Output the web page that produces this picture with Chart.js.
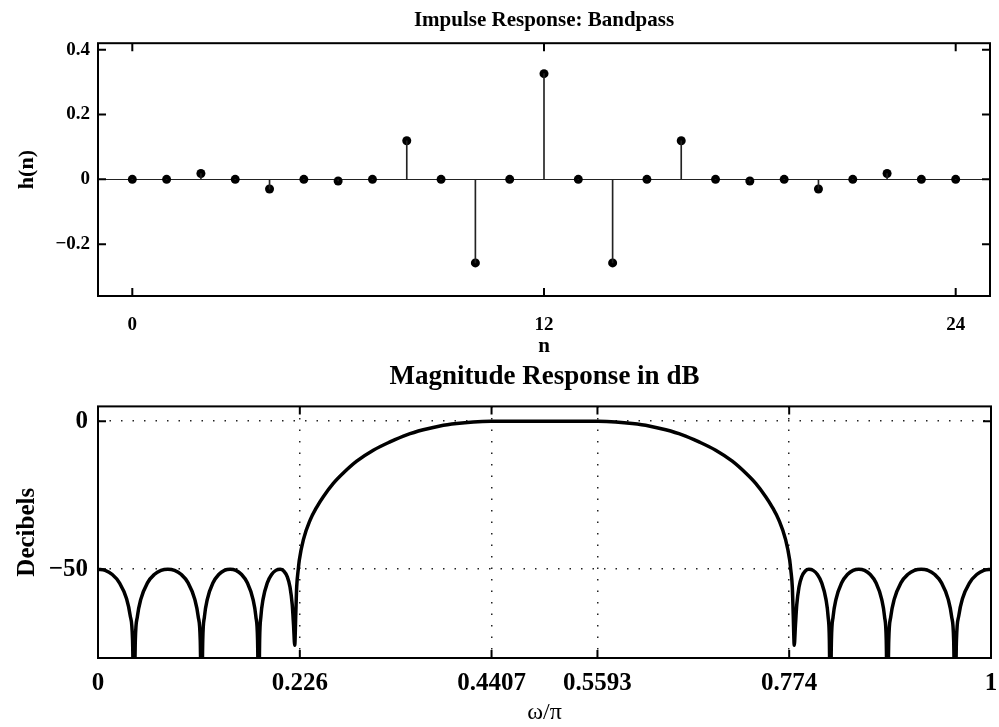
<!DOCTYPE html>
<html>
<head>
<meta charset="utf-8">
<script src="https://cdn.jsdelivr.net/npm/chart.js@4.4.1/dist/chart.umd.min.js"></script>
<style>
  html, body { margin: 0; padding: 0; background: #fff; }
  #wrap { position: relative; width: 999px; height: 727px; }
  canvas { position: absolute; left: 0; }
</style>
</head>
<body>
<div id="wrap">
  <canvas id="impulse" width="999" height="360" style="top:0"></canvas>
  <canvas id="magnitude" width="999" height="367" style="top:360px"></canvas>
</div>
<script>
// impulse response h(n), n = 0..24
const nValues = [0, 1, 2, 3, 4, 5, 6, 7, 8, 9, 10, 11, 12, 13, 14, 15, 16, 17, 18, 19, 20, 21, 22, 23, 24];
const hValues = [0, 0, 0.018, 0, -0.030, 0, -0.005, 0, 0.119, 0, -0.258, 0, 0.326,
                 0, -0.258, 0, 0.119, 0, -0.005, 0, -0.030, 0, 0.018, 0, 0];
const nTicks = [0, 12, 24];
const hTicks = [-0.2, 0, 0.2, 0.4];

// magnitude response (omega/pi, dB)
const freqs = [
  0, 0.008, 0.016, 0.024, 0.032, 0.036, 0.0387, 0.0403,
  0.0418, 0.0441, 0.0479, 0.0554, 0.063, 0.0706, 0.0782, 0.0857, 0.0933, 0.1009, 0.1084, 0.1122, 0.1145, 0.116,
  0.1173, 0.1192, 0.1224, 0.1288, 0.1352, 0.1416, 0.148, 0.1544, 0.1608, 0.1672, 0.1736, 0.1768, 0.1787, 0.180,
  0.181, 0.1824, 0.1848, 0.1896, 0.1944, 0.1992, 0.204, 0.208, 0.212, 0.215, 0.2175, 0.219, 0.2203,
  0.2215, 0.2225, 0.2243, 0.2254, 0.230, 0.2374, 0.245, 0.2523, 0.2635, 0.2747, 0.2897, 0.3083, 0.327,
  0.3457, 0.3643, 0.383, 0.4017, 0.4203, 0.44, 0.47, 0.5,
  0.53, 0.56, 0.5797, 0.5983, 0.617, 0.6357, 0.6543, 0.673, 0.6917, 0.7103, 0.7253, 0.7365, 0.7477,
  0.755, 0.7626, 0.770, 0.7746, 0.7757, 0.7775, 0.7785, 0.7797,
  0.781, 0.7825, 0.785, 0.788, 0.792, 0.796, 0.8008, 0.8056, 0.8104, 0.8152, 0.8176, 0.819, 0.820,
  0.8213, 0.8232, 0.8264, 0.8328, 0.8392, 0.8456, 0.852, 0.8584, 0.8648, 0.8712, 0.8776, 0.8808, 0.8827, 0.884,
  0.8855, 0.8878, 0.8916, 0.8991, 0.9067, 0.9143, 0.9218, 0.9294, 0.937, 0.9446, 0.9521, 0.9559, 0.9582, 0.9597,
  0.9613, 0.964, 0.968, 0.976, 0.984, 0.992, 1
];
const magDb = [
  -50, -50.4, -51.8, -54.6, -60, -65.6, -74, -100,
  -74, -66, -60.2, -54.6, -51.8, -50.4, -50, -50.4, -51.8, -54.6, -60.2, -66, -74, -100,
  -74, -66, -60.2, -54.6, -51.8, -50.4, -50, -50.4, -51.8, -54.6, -60.2, -66, -74, -100,
  -74, -66, -60.2, -54.6, -51.8, -50.4, -50, -50.6, -52.6, -56, -62, -69, -75.7,
  -65, -56, -50, -47, -40, -33.5, -29, -25.5, -21, -17.5, -13.5, -9.8, -7,
  -4.6, -2.9, -1.6, -0.8, -0.3, -0.05, 0, 0,
  0, -0.05, -0.3, -0.8, -1.6, -2.9, -4.6, -7, -9.8, -13.5, -17.5, -21, -25.5,
  -29, -33.5, -40, -47, -50, -56, -65, -75.7,
  -69, -62, -56, -52.6, -50.6, -50, -50.4, -51.8, -54.6, -60.2, -66, -74, -100,
  -74, -66, -60.2, -54.6, -51.8, -50.4, -50, -50.4, -51.8, -54.6, -60.2, -66, -74, -100,
  -74, -66, -60.2, -54.6, -51.8, -50.4, -50, -50.4, -51.8, -54.6, -60.2, -66, -74, -100,
  -74, -65.6, -60, -54.6, -51.8, -50.4, -50
];
const wTicks = [0, 0.226, 0.4407, 0.5593, 0.774, 1];
const wTickLabels = ['0', '0.226', '0.4407', '0.5593', '0.774', '1'];
const dbTicks = [-50, 0];

const SERIF = "'Liberation Serif', 'Times New Roman', serif";

// box around the plot area plus MATLAB style inward ticks
const frameTicks = {
  id: 'frameTicks',
  afterDraw(chart, args, opts) {
    const { ctx, chartArea: a, scales: { x, y } } = chart;
    const len = opts.len || 8;
    ctx.save();
    ctx.strokeStyle = '#000';
    ctx.lineWidth = 2;
    ctx.beginPath();
    x.ticks.forEach(t => {
      const px = x.getPixelForValue(t.value);
      ctx.moveTo(px, a.bottom); ctx.lineTo(px, a.bottom - len);
      ctx.moveTo(px, a.top); ctx.lineTo(px, a.top + len);
    });
    y.ticks.forEach(t => {
      const py = y.getPixelForValue(t.value);
      ctx.moveTo(a.left, py); ctx.lineTo(a.left + len, py);
      ctx.moveTo(a.right, py); ctx.lineTo(a.right - len, py);
    });
    ctx.stroke();
    ctx.strokeRect(a.left, a.top, a.right - a.left, a.bottom - a.top);
    ctx.restore();
  }
};

const minus = v => (v < 0 ? '\u2212' + Math.abs(v) : String(v));
const setTicks = arr => scale => { scale.ticks = arr.map(v => ({ value: v })); };
// fixed axis boxes, no extra label overhang padding
const fixHeight = h => s => { s.height = h; s.paddingLeft = 0; s.paddingRight = 0; };
const fixWidth = w => s => { s.width = w; s.paddingTop = 0; s.paddingBottom = 0; };

const stems = nValues.map((n, i) => ({ x: n, y: hValues[i] }));

new Chart(document.getElementById('impulse'), {
  type: 'scatter',
  data: {
    datasets: [
      { type: 'bar', data: stems, backgroundColor: '#222', barThickness: 1, borderWidth: 0 },
      { type: 'scatter', data: stems, pointRadius: 4.5, pointBackgroundColor: '#000', pointBorderWidth: 0 }
    ]
  },
  options: {
    responsive: false,
    devicePixelRatio: 1,
    animation: false,
    layout: { padding: { left: 0, right: 9, top: 0, bottom: 0 } },
    plugins: {
      legend: { display: false },
      tooltip: { enabled: false },
      frameTicks: { len: 8 },
      title: {
        display: true,
        fullSize: false,
        text: 'Impulse Response: Bandpass',
        color: '#000',
        font: { family: SERIF, size: 21, weight: 'bold' },
        padding: { top: 8, bottom: 10 }
      }
    },
    scales: {
      x: {
        type: 'linear',
        min: -1,
        max: 25,
        offset: false,
        afterBuildTicks: setTicks(nTicks),
        afterFit: fixHeight(64),
        grid: { display: false, offset: false },
        border: { display: false },
        ticks: {
          color: '#000', padding: 10, autoSkip: false, maxRotation: 0,
          font: { family: SERIF, size: 19, weight: 'bold' },
          callback: v => String(v)
        },
        title: {
          display: true, text: 'n', color: '#000',
          font: { family: SERIF, size: 21, weight: 'bold' },
          padding: { top: 0, bottom: 1 }
        }
      },
      y: {
        min: -0.36,
        max: 0.42,
        afterBuildTicks: setTicks(hTicks),
        afterFit: fixWidth(98),
        grid: {
          drawTicks: false,
          lineWidth: 1,
          color: c => (c.tick && c.tick.value === 0 ? '#222' : 'rgba(0,0,0,0)')
        },
        border: { display: false },
        ticks: {
          color: '#000', padding: 8, autoSkip: false,
          font: { family: SERIF, size: 19, weight: 'bold' },
          callback: v => minus(v)
        },
        title: {
          display: true, text: 'h(n)', color: '#000',
          font: { family: SERIF, size: 22, weight: 'bold' },
          padding: { top: 14, bottom: 0 }
        }
      }
    }
  },
  plugins: [frameTicks]
});

new Chart(document.getElementById('magnitude'), {
  type: 'line',
  data: {
    datasets: [{
      data: freqs.map((f, i) => ({ x: f, y: magDb[i] })),
      borderColor: '#000',
      borderWidth: 3.5,
      pointRadius: 0,
      cubicInterpolationMode: 'monotone',
      fill: false
    }]
  },
  options: {
    responsive: false,
    devicePixelRatio: 1,
    animation: false,
    layout: { padding: { left: 0, right: 8, top: 0, bottom: 0 } },
    plugins: {
      legend: { display: false },
      tooltip: { enabled: false },
      frameTicks: { len: 8 },
      title: {
        display: true,
        fullSize: false,
        text: 'Magnitude Response in dB',
        color: '#000',
        font: { family: SERIF, size: 27, weight: 'bold' },
        padding: { top: 1, bottom: 13 }
      }
    },
    scales: {
      x: {
        type: 'linear',
        min: 0,
        max: 1,
        afterBuildTicks: setTicks(wTicks),
        afterFit: fixHeight(69),
        grid: { drawTicks: false, color: '#222', lineWidth: 1.5 },
        border: { display: false, dash: [1.5, 10] },
        ticks: {
          color: '#000', padding: 11, autoSkip: false, maxRotation: 0,
          font: { family: SERIF, size: 25, weight: 'bold' },
          callback: (v, i) => wTickLabels[i]
        },
        title: {
          display: true, text: 'ω/π', color: '#000',
          font: { family: SERIF, size: 24 },
          padding: { top: 0, bottom: 0 }
        }
      },
      y: {
        min: -80,
        max: 5,
        afterBuildTicks: setTicks(dbTicks),
        afterFit: fixWidth(98),
        grid: { drawTicks: false, color: '#222', lineWidth: 1.5 },
        border: { display: false, dash: [1.5, 10] },
        ticks: {
          color: '#000', padding: 10, autoSkip: false,
          font: { family: SERIF, size: 25, weight: 'bold' },
          callback: v => minus(v)
        },
        title: {
          display: true, text: 'Decibels', color: '#000',
          font: { family: SERIF, size: 25, weight: 'bold' },
          padding: { top: 13, bottom: 0 }
        }
      }
    }
  },
  plugins: [frameTicks]
});
</script>
</body>
</html>
